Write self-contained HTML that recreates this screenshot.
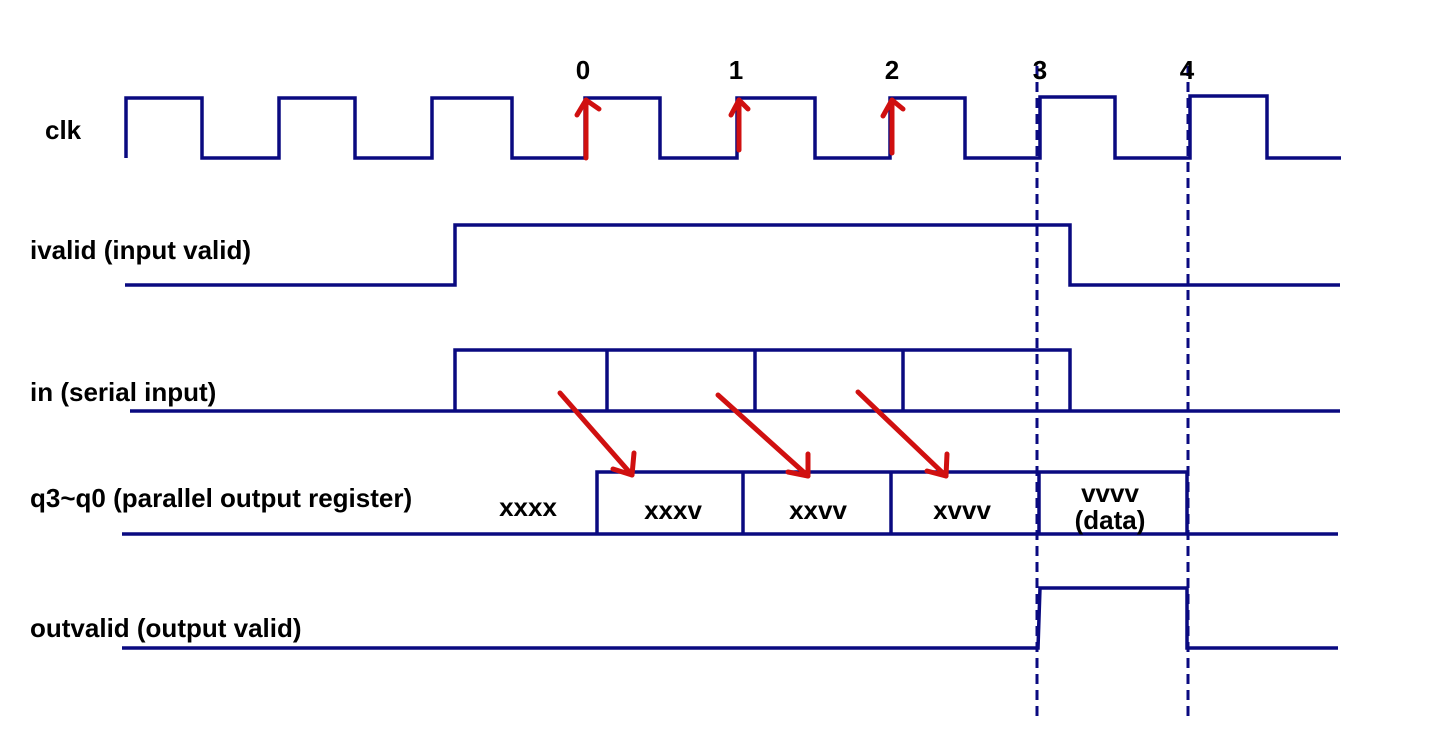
<!DOCTYPE html>
<html><head><meta charset="utf-8"><style>
html,body{margin:0;padding:0;background:#fff;}
svg{display:block;}
text{font-family:"Liberation Sans",Arial,sans-serif;font-weight:bold;fill:#000;}
</style></head><body>
<svg width="1440" height="749" viewBox="0 0 1440 749" xmlns="http://www.w3.org/2000/svg">
<g fill="none" stroke="#0a0a80" stroke-width="3.5">
<polyline points="126,158 126,98 202,98 202,158 279,158 279,98 355,98 355,158 432,158 432,98 512,98 512,158 585,158 585,98 660,98 660,158 737,158 737,98 815,98 815,158 890,158 890,98 965,98 965,158 1040,158 1040,97 1115,97 1115,158 1190,158 1190,96 1267,96 1267,158 1341,158"/>
<polyline points="125,285 455,285 455,225 1070,225 1070,285 1340,285"/>
<line x1="130" y1="411" x2="1340" y2="411"/>
<polyline points="455,411 455,350 1070,350 1070,411"/>
<line x1="607" y1="350" x2="607" y2="411"/>
<line x1="755" y1="350" x2="755" y2="411"/>
<line x1="903" y1="350" x2="903" y2="411"/>
<line x1="122" y1="534" x2="1338" y2="534"/>
<polyline points="597,534 597,472 1187,472 1187,534"/>
<line x1="743" y1="472" x2="743" y2="534"/>
<line x1="891" y1="472" x2="891" y2="534"/>
<line x1="1039" y1="472" x2="1039" y2="534"/>
<polyline points="122,648 1038,648 1040,588 1187,588 1187,648 1338,648"/>
</g>
<g stroke="#0a0a80" stroke-width="3" stroke-dasharray="10,6">
<line x1="1037" y1="66" x2="1037" y2="718"/>
<line x1="1188" y1="66" x2="1188" y2="718"/>
</g>
<g fill="none" stroke="#d01010" stroke-width="5" stroke-linecap="round" stroke-linejoin="round">
<line x1="586" y1="158" x2="586" y2="100"/><polyline points="577,115 586,100 599,109"/>
<line x1="739" y1="150" x2="739" y2="100"/><polyline points="731,115 739,100 748,109"/>
<line x1="892" y1="153" x2="892" y2="100"/><polyline points="883,116 892,100 903,109"/>
<line x1="560" y1="393" x2="632" y2="475"/><polyline points="613,469 632,475 634,453"/>
<line x1="718" y1="395" x2="808" y2="476"/><polyline points="788,472 808,476 808,454"/>
<line x1="858" y1="392" x2="946" y2="476"/><polyline points="927,471 946,476 947,454"/>
</g>
<g font-size="26">
<text x="45" y="139">clk</text>
<text x="30" y="259">ivalid (input valid)</text>
<text x="30" y="401">in (serial input)</text>
<text x="30" y="507">q3~q0 (parallel output register)</text>
<text x="30" y="637">outvalid (output valid)</text>
</g>
<g font-size="26" text-anchor="middle">
<text x="583" y="79">0</text>
<text x="736" y="79">1</text>
<text x="892" y="79">2</text>
<text x="1040" y="79">3</text>
<text x="1187" y="79">4</text>
<text x="528" y="516">xxxx</text>
<text x="673" y="519">xxxv</text>
<text x="818" y="519">xxvv</text>
<text x="962" y="519">xvvv</text>
<text x="1110" y="502">vvvv</text>
<text x="1110" y="529">(data)</text>
</g>
</svg>
</body></html>
